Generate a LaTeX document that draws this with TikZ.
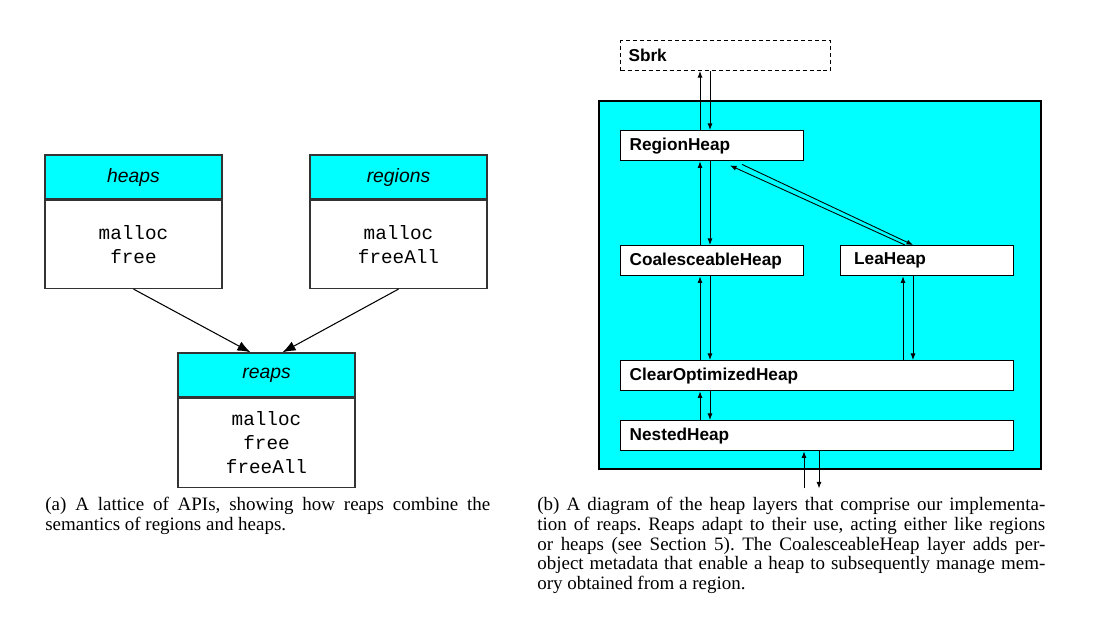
\documentclass[tikz,border=0pt]{standalone}
\usepackage{fontspec}
\setmainfont{Liberation Serif}
\setsansfont{Liberation Sans}
\setmonofont{Liberation Mono}
\usetikzlibrary{positioning,arrows.meta,calc}
\definecolor{aqua}{RGB}{0,255,255}

\begin{document}
\begin{tikzpicture}[x=0.02cm, y=-0.02cm,
  hdr/.style={draw=black!80, fill=aqua, line width=0.8pt, minimum width=3.54cm, minimum height=0.88cm, text depth=0.4ex, font=\fontsize{11}{13}\selectfont\sffamily\itshape},
  api/.style={draw=black!80, fill=white, line width=0.8pt, minimum width=3.54cm, align=center, font=\fontsize{11}{13.6}\selectfont\ttfamily},
  layer/.style={draw, fill=white, line width=0.8pt, anchor=north west, minimum height=0.6cm, inner xsep=0.18cm, align=left, font=\fontsize{9.8}{11}\selectfont\sffamily\bfseries},
  capt/.style={anchor=north west, inner sep=0pt, align=justify, font=\fontsize{10.8}{11.2}\selectfont\frenchspacing},
  link/.style={-{Latex[length=1.3mm,width=1mm]}, line width=0.5pt},
  flow/.style={-{Latex[length=2.6mm,width=2mm]}, line width=0.6pt}
]
  \useasboundingbox (0,0) rectangle (1101,617);

  % (a) lattice of APIs
  \node[hdr] (heaps) at (133.5,177) {heaps};
  \node[api, below=0pt of heaps, minimum height=1.76cm] (heapsops) {malloc\\free};
  \node[hdr] (regions) at (398.5,177) {regions};
  \node[api, below=0pt of regions, minimum height=1.76cm] (regionsops) {malloc\\freeAll};
  \node[hdr] (reaps) at (266.5,375) {reaps};
  \node[api, below=0pt of reaps, minimum height=1.78cm] (reapsops) {malloc\\free\\freeAll};

  \draw[flow] (heapsops.south) -- ($(reaps.north)+(-16,0)$);
  \draw[flow] (regionsops.south) -- ($(reaps.north)+(16,0)$);

  % (b) heap layers
  \node[draw, dashed, dash pattern=on 0.8mm off 0.6mm, line width=0.6pt, anchor=north west, minimum height=0.6cm, inner xsep=0.16cm, text width=3.88cm, align=left, font=\fontsize{9.8}{11}\selectfont\sffamily\bfseries] (sbrk) at (620,40) {Sbrk};
  \node[draw, fill=aqua, line width=1.2pt, anchor=north west, minimum width=8.84cm, minimum height=7.36cm] (reap) at (598,100) {};
  \node[layer, text width=3.3cm] (rh) at (620,130) {RegionHeap};
  \node[layer, text width=3.3cm] (ch) at (620,245) {CoalesceableHeap};
  \node[layer, inner xsep=0.27cm, text width=2.92cm] (lh) at (840,245) {LeaHeap};
  \node[layer, text width=7.5cm] (coh) at (620,360) {ClearOptimizedHeap};
  \node[layer, text width=7.5cm] (nh) at (620,420) {NestedHeap};

  \draw[link] ($(rh.north west)+(80,0)$) -- ($(sbrk.south west)+(80,0)$);
  \draw[link] ($(sbrk.south west)+(90,0)$) -- ($(rh.north west)+(90,0)$);
  \draw[link] ($(ch.north west)+(80,0)$) -- ($(rh.south west)+(80,0)$);
  \draw[link] ($(rh.south west)+(90,0)$) -- ($(ch.north west)+(90,0)$);
  \draw[link] ($(lh.north west)+(65,0)$) -- ($(rh.south west)+(110,4)$);
  \draw[link] ($(rh.south west)+(122,3)$) -- ($(lh.north west)+(73,0)$);
  \draw[link] ($(coh.north west)+(80,0)$) -- ($(ch.south west)+(80,0)$);
  \draw[link] ($(ch.south west)+(90,0)$) -- ($(coh.north west)+(90,0)$);
  \draw[link] ($(coh.north west)+(283,0)$) -- ($(lh.south west)+(63,0)$);
  \draw[link] ($(lh.south west)+(73,0)$) -- ($(coh.north west)+(293,0)$);
  \draw[link] ($(nh.north west)+(80,0)$) -- ($(coh.south west)+(80,0)$);
  \draw[link] ($(coh.south west)+(90,0)$) -- ($(nh.north west)+(90,0)$);
  \coordinate (inlet) at ($(nh.south west)+(184,37)$);
  \coordinate (outlet) at ($(nh.south west)+(199,37)$);
  \draw[link] (inlet) -- ($(nh.south west)+(184,0)$);
  \draw[link] ($(nh.south west)+(199,0)$) -- (outlet);

  % captions
  \node[capt, text width=8.9cm] (capa) at (45,497) {(a) A lattice of APIs, showing how reaps combine the\linebreak semantics of regions and heaps.};
  \node[capt, text width=10.16cm] (capb) at (537,497) {(b) A diagram of the heap layers that comprise our implementa-\linebreak tion of reaps. Reaps adapt to their use, acting either like regions\linebreak or heaps (see Section 5). The CoalesceableHeap layer adds per-\linebreak object metadata that enable a heap to subsequently manage mem-\linebreak ory obtained from a region.};
\end{tikzpicture}
\end{document}
